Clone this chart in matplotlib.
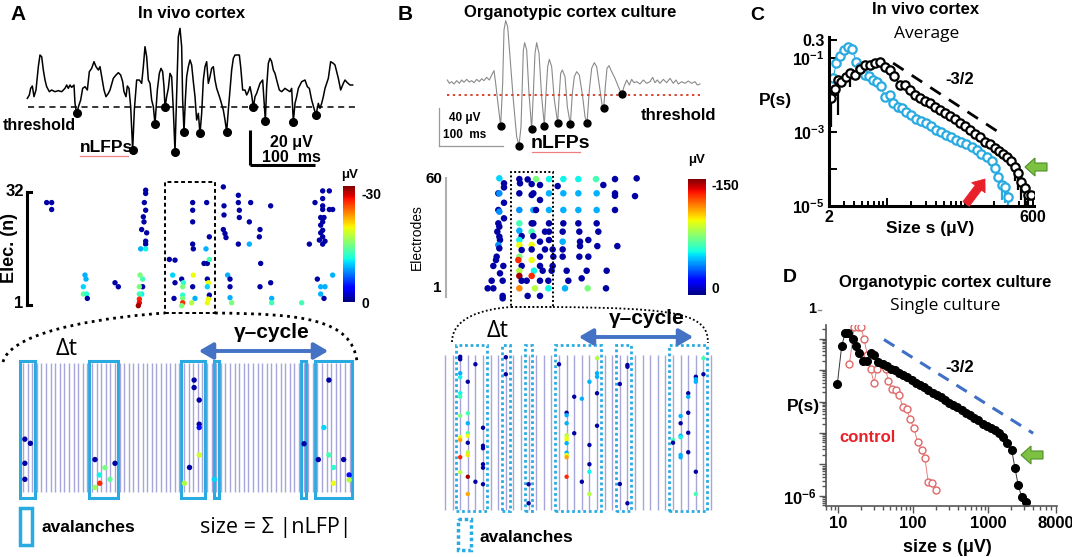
import numpy as np
import matplotlib
matplotlib.use("Agg")
import matplotlib.pyplot as plt
import matplotlib.ticker as mticker
from matplotlib.patches import Rectangle, FancyArrow, FancyArrowPatch, PathPatch
from matplotlib.path import Path
from matplotlib.colors import Normalize
from matplotlib.cm import ScalarMappable

plt.rcParams['font.family'] = ['Liberation Sans', 'DejaVu Sans']
plt.rcParams['mathtext.fontset'] = 'custom'
plt.rcParams['mathtext.rm'] = 'Liberation Sans'
plt.rcParams['mathtext.bf'] = 'Liberation Sans:bold'

# ---------------- data ----------------
# A: in vivo LFP trace, (time ms, amplitude uV), threshold at 0
a_trace = [(41, 5), (44, 7), (46, 11), (48.5, 12.4), (51, 6), (54, 10), (57.5, 24), (60, 31), (62.5, 30),
           (65, 22), (67.5, 16), (70, 12), (74, 9), (77.5, 10), (82.5, 9), (87.5, 9.6), (92.5, 9), (97.5, 11),
           (100, 13), (102.5, 11), (105, 13), (107.5, 11.6), (111, 13), (112.5, 2), (115, -4), (118, 0.4),
           (121, 4), (124, 11), (127.5, 12), (131, 10), (134, 21), (137.5, 23), (141, 27), (144, 24),
           (147.5, 22), (150, 24), (152.5, 18), (156, 10), (159, 6), (162.5, 8), (165, 10), (170, 17),
           (174, 19), (177.5, 20.4), (181, 19), (184, 15), (186, 9), (189, 6), (191, 12.4), (193.5, 11),
           (196, 0), (199, -26), (201.5, -2), (205, 16), (209, 16), (212.5, 14), (215, 24), (217.5, 36),
           (220, 30), (222.5, 16), (225, 14), (227.5, 4), (230, 0), (232.5, -10.4), (234, -2), (236, 10),
           (239, 20), (241.5, 23), (244, 21), (246, 12), (247.5, -0.4), (250, 6), (252.5, 11), (255, 20),
           (257.5, 18), (260, -2), (262.5, -27), (265, 8), (267.5, 42), (270, 47), (272.5, 36), (274, 4),
           (276, -15), (278, 4), (280, 18), (282.5, 24), (285, 28), (287.5, 25), (290, 15), (292.5, 6),
           (295, -8), (297.5, -4), (300, -16), (302.5, -4), (305, 16), (307.5, 24), (310, 27), (312.5, 14),
           (315, 18), (317.5, 23), (320, 24), (322.5, 16), (325, 11), (330, 5), (335, -2), (337.5, -8),
           (340, -15), (342.5, -2), (345, 10), (347.5, 22), (350, 29), (352.5, 31), (356, 31), (359, 31),
           (361, 24), (364, 10), (367.5, 10), (370, 7), (372.5, 9), (375, 12), (377.5, 7), (380, -0.4),
           (382.5, 6), (385, 8), (390, 14), (394, 16), (398, -8.4), (400, 12), (402.5, 26), (405, 29),
           (407.5, 27), (410, 22), (412.5, 20), (415, 16), (419, 10), (422.5, 9), (427.5, 11), (431, 10),
           (435, 9), (437.5, 11), (440, -9), (442.5, 2), (445, 6), (447.5, 11), (452.5, 15), (457.5, 16),
           (461, 12), (464, 11), (467.5, 4), (471, -1), (474, -5), (477.5, 2), (480, -1), (482.5, 2),
           (485, 6), (487.5, 11), (492.5, 17), (496, 27), (500, 26), (502.5, 25), (505, 21), (507.5, 17),
           (511, 10), (515, 14), (517.5, 16), (521, 14.4), (525, 13), (529, 13)]
a_nlfp = [(115, -4), (199, -26), (232.5, -10.4), (247.5, -0.4), (262.5, -27), (276, -15), (300, -16),
          (340, -15), (380, -0.4), (398, -8.4), (440, -9), (474, -5)]

# A raster: (time ms, electrode, nLFP uV)
a_raster = [(70, 29.1, -1), (77.5, 29.1, -1), (77.5, 27.2, -1),
            (127.5, 9.2, -9), (129, 8.1, -9), (125, 6.0, -10), (125, 4.0, -14), (130, 4.0, -12), (131, 2.8, -1),
            (172.5, 7.1, -1), (177.5, 6.0, -1),
            (218.5, 32.5, -1), (218.5, 31.6, -1), (216.5, 29.1, -1), (218.5, 27.0, -1), (215, 25.2, -1),
            (216, 23.8, -1), (212.5, 21.7, -1), (220, 20.8, -1), (218.5, 18.5, -1), (218.5, 17.7, -1),
            (211, 16.4, -9), (218.5, 16.4, -11), (210, 9.2, -15), (214, 8.1, -13), (214, 6.0, -1),
            (209, 6.0, -15), (212.5, 4.0, -11), (209, 4.0, -13), (209, 2.6, -26), (209, 1.6, -27), (207.5, 0.8, -29),
            (254, 13.5, -1), (262.5, 13.3, -1), (259, 9.2, -10), (272.5, 8.1, -1), (262.5, 7.1, -1),
            (275, 7.1, -12), (274, 6.0, -15), (261, 2.8, -1), (274, 3.7, -12), (274, 2.8, -15), (274, 1.6, -26),
            (272.5, 0.8, -15),
            (289, 29.1, -1), (289, 27.0, -1), (289, 23.8, -1), (289, 17.7, -1), (290, 16.4, -1), (290, 9.2, -19),
            (289, 6.0, -1), (292.5, 2.8, -9), (287.5, 1.6, -17),
            (310, 29.1, -1), (314, 19.7, -1), (309, 16.4, -9), (306, 12.4, -1), (311, 12.4, -1), (314, 13.5, -13),
            (311, 8.1, -1), (312.5, 7.1, -19), (311, 6.0, -10), (314, 3.7, -1), (312.5, 2.6, -19), (311, 1.6, -19),
            (335, 33.4, -1), (336, 28.2, -1), (336, 25.7, -1), (335, 21.7, -1), (337.5, 20.6, -1), (339, 19.5, -1),
            (341.5, 9.2, -9), (345, 8.1, -1), (345, 6.0, -1), (345, 3.0, -9), (347.5, 1.6, -15),
            (357.5, 31.1, -1), (357.5, 29.1, -1), (359, 27.0, -1), (359, 25.0, -1), (376, 29.1, -1), (374, 23.8, -1),
            (357.5, 17.7, -1), (374, 17.7, -9), (390, 21.7, -1), (389, 19.7, -1), (391, 12.4, -1), (390, 6.0, -1),
            (406, 28.2, -1), (406, 7.1, -1), (407.5, 2.8, -9), (407.5, 1.6, -13), (452.5, 1.6, -13), (464, 17.7, -1),
            (484, 32.3, -1), (494, 32.3, -1), (472.5, 29.1, -1), (484, 30.2, -1), (484, 28.2, -1), (484, 27.2, -1),
            (494, 27.2, -1), (499, 27.2, -1), (481, 25.0, -1), (484, 23.8, -1), (486, 25.0, -1), (481, 22.9, -1),
            (484, 21.5, -1), (481, 20.8, -1), (484, 19.7, -1), (479, 18.8, -1), (484, 17.7, -1), (487.5, 18.5, -1),
            (476, 8.1, -1), (499, 9.2, -9), (481, 6.0, -9), (487.5, 6.0, -9), (481, 4.0, -9), (486, 2.8, -1)]

# A binned raster: (bin index, electrode, nLFP uV), avalanche boxes as (first bin, last bin)
a_bins_n = 72
a_binned = [(0.4, 13.7, -1), (1.6, 12.7, -1), (0.4, 7.9, -1), (0.4, 4.05, -1),
            (15.65, 8.8, -1), (17.8, 6.85, -15), (20.0, 7.9, -1), (16.6, 5.1, -11), (18.9, 4.05, -14),
            (16.7, 3.1, -26), (15.65, 2.1, -16),
            (37.2, 27.9, -1), (37.2, 26.1, -1), (38.3, 23.1, -1), (38.3, 17.3, -1), (38.3, 16.5, -4),
            (38.3, 9.9, -18), (36.2, 6.9, -1), (35.1, 3.1, -17), (41.6, 4.05, -10), (61.1, 12.6, -1),
            (66.5, 27.9, -1), (65.4, 16.5, -10), (64.2, 8.8, -1), (66.5, 9.9, -13), (69.7, 8.8, -1),
            (67.5, 6.9, -12), (70.9, 5.1, -4), (67.5, 3.1, -19), (70.9, 3.9, -17)]
a_avalanches = [(0, 2), (15, 20), (35, 39), (42, 42), (61, 61), (64, 71)]

# B: organotypic culture LFP trace
b_trace = [(131, 16.2), (134, 12.6), (137.5, 14.4), (141, 11.9), (145, 15.5), (149, 12.6), (152.5, 16.2),
           (156, 13.7), (160, 16.9), (164, 14.0), (167.5, 15.5), (171, 13.3), (175, 16.9), (179, 14.4),
           (182.5, 17.6), (186, 15.5), (190, 19.1), (194, 16.2), (197.5, 21.6), (201, 26.3), (203.5, 12.6),
           (207.5, -12.6), (211, -33.1), (214, 12.6), (216, 70.2), (218.5, 80.3), (221.5, 73.8), (225, 41.4),
           (230, -5.4), (235, -45), (238.5, -54.7), (241.5, -34.2), (243.5, 12.6), (245, 48.6), (247, 56.5),
           (250, 48.6), (253.5, 1.8), (257.5, -36.7), (260, 1.8), (262.5, 45), (265, 56.5), (268.5, 45),
           (272.5, -1.8), (276.5, -33.1), (279, 1.8), (281.5, 30.6), (284, 38.5), (287.5, 30.6), (291.5, -5.4),
           (296.5, -29.9), (299, 1.8), (301, 23.4), (303.5, 27), (307.5, 19.8), (311, -12.6), (315.5, -31.7),
           (318.5, 1.8), (321.5, 19.8), (325, 25.2), (329, 21.6), (334, -1.8), (337.5, -23.4), (340.5, -30.6),
           (344, 5.4), (347.5, 28.8), (351.5, 34.9), (355, 30.6), (360, 5.4), (363.5, -12.6), (365.5, -14.4),
           (368, 9), (370.5, 28.8), (373.5, 31.7), (377.5, 25.2), (382.5, 18), (387.5, 9), (392.5, 0.7),
           (396, 9), (400, 16.2), (404, 10.8), (407.5, 16.9), (411, 13.3), (415, 14.4), (420, 11.9),
           (425, 16.2), (430, 12.6), (435, 14.4), (439, 19.1), (442.5, 13.3), (446, 16.2), (450, 12.6),
           (455, 16.9), (460, 13.3), (465, 18), (470, 12.6), (474, 16.2), (477.5, 11.9), (482.5, 14.4),
           (487.5, 12.6), (492.5, 15.1), (497.5, 12.6), (502.5, 14.4), (506, 10.8), (510, 11.9)]
b_nlfp = [(211, -33.1), (238.5, -54.7), (257.5, -36.7), (276.5, -33.1), (296.5, -29.9), (315.5, -31.7),
          (340.5, -30.6), (365.5, -14.4), (392.5, 0.7)]

b_raster = [(209, 60.4, -50), (216, 57.7, -5), (216, 55.5, -5), (207.5, 52.3, -5), (209, 52.3, -40),
            (216, 47.2, -5), (207.5, 43.3, -5), (209, 42.4, -40), (216, 38.8, -5), (207.5, 36.1, -5),
            (209, 34.3, -5), (206, 31.6, -5), (209, 28.9, -5), (210, 27.1, -5), (207.5, 24.4, -40),
            (209, 22.6, -5), (205, 18.1, -5), (204, 16.3, -5), (200, 13.1, -5), (215, 13.1, -5), (210, 9.1, -5),
            (197.5, 5.1, -5), (214, 5.1, -5), (191.5, 1.0, -5), (200, 1.0, -5), (214, -3.1, -5), (214, -4.4, -5),
            (239, 60.0, -5), (240, 57.7, -5), (239, 52.3, -5), (239, 43.3, -40), (239, 36.1, -65),
            (239, 32.1, -45), (242.5, 29.2, -5), (239, 27.1, -55), (239, 24.4, -95), (242.5, 21.7, -5),
            (239, 18.1, -75), (237.5, 16.3, -130), (242.5, 13.1, -5), (239, 10.5, -85), (239, 7.7, -145),
            (242.5, 5.1, -5), (239, 1.0, -115), (251.5, -3.1, -5), (250, 5.1, -5),
            (257.5, 57.3, -5), (251.5, 59.8, -5), (260, 52.3, -5), (257.5, 51.4, -5), (260, 43.3, -45),
            (257.5, 36.1, -5), (257.5, 31.6, -65), (260, 29.2, -5), (257.5, 24.4, -95), (257.5, 22.0, -5),
            (257.5, 16.3, -95), (261, 10.5, -55), (257.5, 7.7, -130), (270, 5.1, -5), (262.5, 1.0, -85),
            (270, -3.1, -5),
            (264, 60.0, -75), (270, 56.8, -5), (270, 48.7, -5), (264, 43.3, -5), (260, 36.1, -5),
            (277.5, 31.6, -5), (270, 26.2, -5), (277.5, 22.0, -5), (270, 18.1, -5), (270, 13.1, -5),
            (274, 10.5, -5),
            (283.5, 60.0, -55), (283.5, 52.3, -45), (283.5, 43.3, -45), (283.5, 36.1, -5), (283.5, 31.6, -5),
            (283.5, 27.1, -5), (289, 22.0, -5), (289, 13.1, -5), (287.5, 10.5, -5), (282.5, 5.1, -5),
            (282.5, 1.0, -55), (296.5, 56.2, -5), (290, 18.1, -5),
            (305, 60.0, -55), (305, 52.3, -45), (305, 43.3, -45), (305, 36.1, -5), (304, 31.6, -5),
            (304, 26.2, -45), (304, 22.0, -5), (304, 18.1, -5), (310, 10.5, -5), (312.5, 5.1, -5),
            (307.5, 1.0, -45),
            (327.5, 60.0, -55), (327.5, 52.3, -45), (327.5, 43.3, -45), (327.5, 36.1, -5), (329, 31.6, -5),
            (330, 26.2, -5), (330, 23.8, -5), (329, 18.1, -5), (342.5, 27.1, -5), (342.5, 18.1, -5),
            (340, 10.5, -5), (332.5, 6.4, -5), (341.5, 1.0, -75),
            (354, 60.0, -65), (355, 52.3, -45), (355, 43.3, -45), (355, 36.1, -5), (357.5, 31.6, -5),
            (356, 23.8, -5), (370, 10.5, -5), (369, 1.0, -5), (365, 56.8, -5),
            (382.5, 60.0, -5), (382.5, 52.3, -5), (382.5, 43.3, -5), (386, 23.8, -5), (382.5, 51.0, -5),
            (415, 60.4, -5), (412.5, 50.8, -5)]

b_bins_n = 36
b_binned = [(2, 59.9, -5), (2, 58.9, -5), (2, 53.3, -45), (2, 51.7, -55), (2, 45.3, -55), (2, 43.9, -65),
            (2, 36.3, -75), (2, 27.7, -95), (2, 26.6, -110), (2, 19.7, -130), (2, 13.7, -85),
            (3, 49.9, -5), (3, 37.3, -65), (3, 33.3, -45), (3, 29.3, -65), (3, 28.3, -95), (3, 25.5, -5),
            (3, 21.7, -85), (3, 20.6, -100), (3, 11.9, -145), (3, 5.0, -110),
            (4, 56.9, -5), (4, 9.9, -5),
            (5, 31.5, -5), (5, 24.3, -5), (5, 23.3, -5), (5, 16.9, -5), (5, 15.5, -5), (5, 8.9, -5),
            (8, 59.7, -5), (8, 52.9, -5), (11, 8.9, -5), (11, 1.3, -5), (15, 56.9, -5),
            (16, 37.5, -5), (16, 36.5, -45), (16, 33.3, -45), (16, 28.5, -85), (16, 27.5, -95), (16, 26.6, -95),
            (16, 25.3, -45), (16, 21.5, -45), (16, 20.6, -95), (16, 19.7, -110), (16, 11.9, -130),
            (17, 43.9, -5), (17, 29.3, -5), (18, 43.1, -45), (18, 9.9, -5),
            (19, 49.9, -45), (19, 24.6, -5), (19, 16.9, -5), (19, 13.9, -55), (19, 5.0, -85),
            (20, 59.3, -85), (20, 53.3, -45), (20, 51.9, -45), (20, 45.3, -5), (20, 32.3, -5),
            (23, 49.0, -5), (23, 9.0, -5), (24, 56.6, -5), (24, 55.9, -5), (24, 1.3, -5),
            (30, 26.6, -65), (30, 25.5, -5),
            (31, 36.2, -45), (31, 33.3, -5), (31, 28.3, -45), (31, 27.7, -55), (31, 20.6, -45), (31, 19.7, -45),
            (32, 45.3, -5), (32, 43.9, -45), (32, 37.5, -5), (32, 29.5, -5), (32, 21.7, -5),
            (33, 51.9, -5), (33, 50.9, -45), (33, 49.9, -45), (33, 13.9, -5), (33, 5.0, -65),
            (34, 59.3, -65), (34, 52.9, -5)]
b_avalanches = [(2, 5), (8, 8), (11, 11), (15, 20), (23, 24), (30, 34)]

# C: in vivo avalanche size distributions
c_black_s = [2.13, 2.34, 2.57, 2.82, 3.19, 3.63, 4.10, 4.71, 5.42, 6.24, 7.17, 8.25, 9.48, 10.9, 12.2, 14.4,
             16.6, 19.1, 21.9, 25.2, 29.0, 33.4, 38.4, 44.2, 50.7, 58.4, 67.1, 77.2, 88.8, 102, 117, 135,
             155, 179, 205, 232, 259, 290, 324, 359, 394, 433, 475, 521, 572]
c_black_p = [0.0081, 0.015, 0.025, 0.023, 0.031, 0.039, 0.035, 0.052, 0.065, 0.065, 0.072, 0.080, 0.058,
             0.046, 0.033, 0.019, 0.019, 0.0136, 0.010, 0.0085, 0.0071, 0.0060, 0.0048, 0.0039, 0.0033,
             0.0027, 0.0022, 0.0018, 0.00145, 0.00113, 0.00091, 0.00072, 0.00055, 0.00047, 0.00036,
             0.00030, 0.00025, 0.00021, 0.00016, 0.000115, 7.6e-5, 4.5e-5, 3.0e-5, 2.0e-5, 2.0e-5]
c_black_err_s = [2.13, 2.57, 3.63, 359, 394, 433, 475, 521]
c_black_err_lo = [0.0014, 0.0028, 0.0168, 4.6e-5, 2.7e-5, 1.45e-5, 1e-5, 1e-5]
c_black_err_hi = [0.0136, 0.019, 0.039, 1.4e-4, 1.04e-4, 7.6e-5, 3.3e-5, 2.7e-5]
c_blue_s = [2.24, 2.45, 2.70, 3.03, 3.40, 3.83, 4.29, 4.80, 5.42, 6.1, 6.8, 7.65, 8.6, 9.5, 10.9, 11.9,
            13.7, 15.4, 17.3, 19.9, 22.9, 26.3, 30.3, 34.9, 40.2, 46.2, 53.2, 61.2, 70.5, 81.2, 93.4,
            108, 124, 142, 164, 189, 207, 228, 250, 274, 300]
c_blue_p = [0.028, 0.072, 0.11, 0.16, 0.20, 0.17, 0.080, 0.058, 0.035, 0.032, 0.025, 0.023, 0.017, 0.0087,
            0.010, 0.006, 0.0048, 0.0044, 0.0035, 0.0029, 0.0023, 0.0020, 0.0017, 0.00145, 0.00113,
            0.00098, 0.00083, 0.00072, 0.00061, 0.00055, 0.00048, 0.00040, 0.00032, 0.00025, 0.00021,
            0.00016, 0.000105, 6.2e-5, 3.7e-5, 3.3e-5, 1.8e-5]
c_blue_err_s = [250, 274, 300]
c_blue_err_lo = [1.45e-5, 1.2e-5, 1e-5]
c_blue_err_hi = [5e-5, 4.6e-5, 2.4e-5]
c_slope_s = [12, 259]
c_slope_p = [0.073, 8.3e-4]

# D: organotypic culture, single culture
d_black_s = [9.8, 11.2, 12.4, 13.7, 15.7, 17.4, 19.2, 21.3, 24.1, 27.3, 30.2, 34.5, 39.4, 44.5, 50.3, 57.5,
             65.7, 74.3, 84.0, 96.0, 110, 124, 140, 160, 183, 207, 234, 267, 304, 344, 389, 444, 507,
             574, 649, 743, 849, 959, 1085, 1239, 1415, 1600, 1812, 2070, 2290, 2530, 2800, 3200]
d_black_p = [0.0036, 0.058, 0.146, 0.146, 0.10, 0.058, 0.034, 0.020, 0.020, 0.034, 0.030, 0.018, 0.016,
             0.0135, 0.011, 0.010, 0.0083, 0.0070, 0.0059, 0.0048, 0.0040, 0.0033, 0.0028, 0.0023, 0.0019,
             0.0016, 0.00135, 0.00112, 0.00091, 0.00078, 0.00065, 0.00054, 0.00044, 0.00037, 0.00031,
             0.00025, 0.00020, 0.000167, 0.000141, 0.000124, 9.8e-5, 7.6e-5, 4.7e-5, 2.9e-5, 7.6e-6,
             2.2e-6, 9.5e-7, 6.6e-7]
d_ctrl_s = [14.2, 16.5, 18.3, 20.2, 22.2, 24.6, 27.2, 30.2, 32.8, 38.2, 43.2, 46.9, 52.9, 59.3, 65.7,
            72.9, 82.2, 91.0, 103, 115, 130, 144, 160, 179, 203]
d_ctrl_p = [0.0155, 0.24, 0.24, 0.226, 0.10, 0.030, 0.011, 0.0038, 0.0105, 0.0155, 0.011, 0.0045, 0.0025,
            0.0023, 0.0016, 0.00065, 0.0006, 0.00028, 0.00014, 5.3e-5, 2.9e-5, 1.6e-5, 2.7e-6, 2.5e-6, 1.5e-6]
d_slope_s = [41, 4000]
d_slope_p = [0.093, 9.8e-5]

CYAN = '#29ABE2'
LINE_COL = '#A6A6DA'
ARROW_BLUE = '#4472C4'
REG = ['Open Sans', 'DejaVu Sans']

# ---------------- figure ----------------
W, H = 1072, 557
fig = plt.figure(figsize=(W / 100, H / 100), dpi=100)


def rect(x0, y0, x1, y1):
    # pixel box (top-left origin) -> figure fraction
    return [x0 / W, 1 - y1 / H, (x1 - x0) / W, (y1 - y0) / H]


def bare(ax):
    for sp in ax.spines.values():
        sp.set_visible(False)
    ax.set_xticks([])
    ax.set_yticks([])
    ax.patch.set_alpha(0)


def colorbar(box, norm):
    cax = fig.add_axes(rect(*box))
    cb = fig.colorbar(ScalarMappable(norm=norm, cmap='jet_r'), cax=cax)
    cax.invert_yaxis()
    cb.set_ticks([])
    cb.outline.set_visible(False)


# ----- A: trace -----
ax = fig.add_axes(rect(0, 20, 357, 166.7))
bare(ax)
ax.set_xlim(0, 535.5)
ax.set_ylim(-36, 52)
t, v = np.array(a_trace).T
ax.plot(t, v, color='black', lw=1.1)
ax.plot([42.5, 532.5], [0, 0], color='black', lw=1.1, dashes=(4, 3))
t, v = np.array(a_nlfp).T
ax.plot(t, v, 'o', color='black', ms=5.5)
ax.plot([375, 375], [-14, -35], color='black', lw=2.2, solid_capstyle='butt')
ax.plot([374.3, 472], [-35, -35], color='black', lw=2.2, solid_capstyle='butt')

# ----- A: raster -----
norm_a = Normalize(-30, 0)
ax = fig.add_axes(rect(27, 179.25, 340, 315.9))
bare(ax)
ax.set_xlim(40.5, 510)
ax.set_ylim(-2, 35.5)
t, e, amp = np.array(a_raster).T
ax.scatter(t, e, c=amp, cmap='jet_r', norm=norm_a, s=15, edgecolors='none')
ax.plot([40.5, 40.5], [1, 32], color='black', lw=2.2, clip_on=False)
ax.plot([40.5, 46], [32, 32], color='black', lw=2.2, clip_on=False)
ax.plot([40.5, 46], [1, 1], color='black', lw=2.2, clip_on=False)
ax.add_patch(Rectangle((247.5, -1.2), 75, 35.9, fill=False, ec='black', lw=1.4, ls=(0, (2, 1.5))))
colorbar((343, 186, 355, 302), norm_a)

# ----- A: binned raster -----
ax = fig.add_axes(rect(15, 355, 360, 505))
bare(ax)
ax.set_xlim(-1.74, 73.26)
ax.set_ylim(-2.125, 33.93)
ax.vlines(np.arange(a_bins_n), 0.9, 32, color=LINE_COL, lw=1)
for k0, k1 in a_avalanches:
    ax.add_patch(Rectangle((k0 - 0.55, -0.45), k1 - k0 + 1.1, 32.9, fill=False, ec=CYAN, lw=2.2))
k, e, amp = np.array(a_binned).T
ax.scatter(k, e, c=amp, cmap='jet_r', norm=norm_a, s=15, edgecolors='none', zorder=3)

# ----- B: trace -----
ax = fig.add_axes(rect(430, 15, 720, 150))
bare(ax)
ax.set_xlim(105, 540)
ax.set_ylim(-59.4, 86.4)
t, v = np.array(b_trace).T
ax.plot(t, v, color='#8a8a8a', lw=0.8)
ax.plot([131, 510], [0, 0], color='#D9442E', lw=1.4, ls=(0, (1.2, 1.8)))
t, v = np.array(b_nlfp).T
ax.plot(t, v, 'o', color='black', ms=5)
ax.plot([118.5, 118.5], [-14.4, -54.7], color='#999999', lw=0.9)
ax.plot([118.5, 215], [-54.7, -54.7], color='#999999', lw=0.9)

# ----- B: raster -----
norm_b = Normalize(-150, 0)
ax = fig.add_axes(rect(430, 165, 720, 310))
bare(ax)
ax.set_xlim(105, 540)
ax.set_ylim(-10.7, 67.6)
t, e, amp = np.array(b_raster).T
ax.scatter(t, e, c=amp, cmap='jet_r', norm=norm_b, s=22, edgecolors='none')
ax.plot([129, 129], [-3.5, 60.5], color='#b0b0b0', lw=1.5)
ax.add_patch(Rectangle((226.5, -9), 63, 72.8, fill=False, ec='black', lw=1.4, ls=(0, (1, 1.2))))
colorbar((688, 179, 706, 295), norm_b)

# ----- B: binned raster -----
ax = fig.add_axes(rect(435, 340, 720, 515))
bare(ax)
ax.set_xlim(-1.316, 36.18)
ax.set_ylim(-3.4, 66.6)
ax.vlines(np.arange(b_bins_n), -1.4, 60.6, color=LINE_COL, lw=1)
for k0, k1 in b_avalanches:
    ax.add_patch(Rectangle((k0 - 0.5, -1.8), k1 - k0 + 1, 66.4, fill=False, ec=CYAN, lw=2,
                           ls=(0, (1, 1))))
k, e, amp = np.array(b_binned).T
ax.scatter(k, e, c=amp, cmap='jet_r', norm=norm_b, s=10, edgecolors='none', zorder=3)

# ----- C -----
axc = fig.add_axes(rect(829, 37, 1034.2, 206))
axc.set_xscale('log')
axc.set_yscale('log')
axc.vlines(c_black_err_s, c_black_err_lo, c_black_err_hi, color='black', lw=1.6)
axc.vlines(c_blue_err_s, c_blue_err_lo, c_blue_err_hi, color=CYAN, lw=1.6)
axc.plot(c_blue_s, c_blue_p, 'o', ls='-', lw=0.8, color=CYAN, mfc='white', mec=CYAN, mew=1.6, ms=6)
axc.plot(c_black_s, c_black_p, 'o', ls='-', lw=0.8, color='black', mfc='white', mec='black', mew=1.6, ms=6)
axc.plot(c_slope_s, c_slope_p, color='black', lw=2, dashes=(4.5, 3.5))
axc.set_xlim(2, 620)
axc.set_ylim(1e-5, 0.37)
for sp in ['top', 'right']:
    axc.spines[sp].set_visible(False)
for sp in ['left', 'bottom']:
    axc.spines[sp].set_linewidth(2.2)
axc.set_yticks([0.3, 1e-1, 1e-2, 1e-3, 1e-4, 1e-5])
axc.set_yticklabels(['0.3', r'$\mathbf{10^{-1}}$', '', r'$\mathbf{10^{-3}}$', '', r'$\mathbf{10^{-5}}$'])
axc.yaxis.set_minor_locator(mticker.NullLocator())
axc.set_xticks([2, 10, 100, 600])
axc.set_xticklabels(['2', '', '', '600'])
axc.xaxis.set_minor_locator(mticker.LogLocator(base=10, subs=np.arange(2, 10), numticks=20))
axc.xaxis.set_minor_formatter(mticker.NullFormatter())
axc.tick_params(which='both', direction='in', width=1.4, labelsize=11.5, pad=3)
axc.tick_params(which='major', length=6)
axc.tick_params(which='minor', length=3.5)
for lab in axc.get_xticklabels() + axc.get_yticklabels():
    lab.set_fontweight('bold')

# ----- D -----
axd = fig.add_axes(rect(826, 325, 1057, 506))
axd.set_xscale('log')
axd.set_yscale('log')
axd.plot(d_slope_s, d_slope_p, color='#3F6FC6', lw=2.2, dashes=(4, 3))
axd.plot(d_ctrl_s, d_ctrl_p, 'o', ls='-', lw=0.7, color='#E88080', mfc='white', mec='#E06868', mew=1, ms=5)
axd.plot(d_black_s, d_black_p, 'o', ls='-', lw=0.7, color='#333333', mfc='black', mec='black', ms=5.5)
axd.set_xlim(6.92, 8318)
axd.set_ylim(4.8e-7, 0.27)
for sp in ['top', 'right']:
    axd.spines[sp].set_visible(False)
for sp in ['left', 'bottom']:
    axd.spines[sp].set_linewidth(1.2)
    axd.spines[sp].set_color('#555555')
axd.set_yticks([1e-6, 1e-5, 1e-4, 1e-3, 1e-2, 1e-1])
axd.set_yticklabels([r'$\mathbf{10^{-6}}$', '', '', '', '', ''])
axd.yaxis.set_minor_locator(mticker.LogLocator(base=10, subs=np.arange(2, 10), numticks=20))
axd.yaxis.set_minor_formatter(mticker.NullFormatter())
axd.set_xticks([10, 100, 1000, 8000])
axd.set_xticklabels(['10', '100', '1000', '8000'])
axd.xaxis.set_minor_locator(mticker.LogLocator(base=10, subs=np.arange(2, 10), numticks=20))
axd.xaxis.set_minor_formatter(mticker.NullFormatter())
axd.tick_params(which='both', direction='out', width=1, color='#555555', labelsize=12, pad=2)
axd.tick_params(which='major', length=5)
axd.tick_params(which='minor', length=3)
for lab in axd.get_xticklabels() + axd.get_yticklabels():
    lab.set_fontweight('bold')

# ---------------- annotations (pixel coordinates) ----------------
deco = fig.add_axes([0, 0, 1, 1])
deco.set_xlim(0, W)
deco.set_ylim(H, 0)
deco.axis('off')


def txt(x, y, s, size=12, weight='bold', ha='left', **kw):
    deco.text(x, y, s, fontsize=size, fontweight=weight, ha=ha, va='center', **kw)


def arc(points, lw, pattern):
    codes = [Path.MOVETO, Path.CURVE4, Path.CURVE4, Path.CURVE4]
    deco.add_patch(PathPatch(Path(points, codes), fill=False, ec='black', lw=lw, ls=pattern))


# panel A
txt(18, 15, 'A', size=15, ha='center')
txt(192, 14, 'In vivo cortex', size=12, ha='center')
txt(3, 125, 'threshold', size=11.5)
txt(80, 147, 'nLFPs', size=12.5)
deco.plot([80, 128], [156, 156], color='#F08080', lw=0.9)
txt(291, 143, '20 \u03bcV', size=11.5, ha='center')
txt(291, 158, '100  ms', size=11.5, ha='center')
txt(24, 192, '32', size=12, ha='right')
txt(23, 304, '1', size=12, ha='right')
txt(9, 248, 'Elec. (n)', size=13, ha='center', rotation=90)
txt(350, 175, '\u03bcV', size=9.5, ha='center')
txt(361, 195, '-30', size=10)
txt(362, 304, '0', size=10)
arc([(3, 362), (12, 328), (120, 316), (165, 313)], 2, (0, (1, 1.6)))
arc([(215, 313), (300, 314), (352, 318), (357, 362)], 2, (0, (1, 1.6)))
txt(67, 349, '\u0394t', size=17, weight='normal', ha='center', family=REG)
txt(272, 333, '\u03b3\u2013cycle', size=15, ha='center')
deco.add_patch(FancyArrowPatch((196, 351), (331, 351), arrowstyle='<|-|>,head_length=0.6,head_width=0.35',
                               mutation_scale=14, lw=2.8, color=ARROW_BLUE))
deco.add_patch(Rectangle((20, 508), 12, 37, fill=False, ec=CYAN, lw=2.5))
txt(42, 527, 'avalanches', size=12.5)
txt(200, 527, 'size = \u03a3 |nLFP|', size=15.5, weight='normal', family=REG)

# panel B
txt(405, 14, 'B', size=15, ha='center')
txt(570, 12, 'Organotypic cortex culture', size=12, ha='center')
txt(449, 118, '40 \u03bcV', size=8.5)
txt(443, 135, '100  ms', size=8.5)
txt(641, 115, 'threshold', size=12)
txt(531, 144, 'nLFPs', size=14)
deco.plot([532, 580], [151.5, 151.5], color='#F08080', lw=0.9)
txt(442, 179, '60', size=11, ha='right')
txt(442, 288, '1', size=11, ha='right')
txt(417, 237, 'Electrodes', size=10, weight='normal', ha='center', rotation=90)
txt(697, 160, '\u03bcV', size=9.5, ha='center')
txt(711, 186, '-150', size=10)
txt(712, 289, '0', size=10)
arc([(452, 342), (452, 318), (482, 309), (511, 307)], 1.3, (0, (1, 1.3)))
arc([(553, 307), (680, 308), (708, 314), (708, 343)], 1.3, (0, (1, 1.3)))
txt(498, 331, '\u0394t', size=17, weight='normal', ha='center', family=REG)
txt(647, 318, '\u03b3\u2013cycle', size=15, ha='center')
deco.add_patch(FancyArrowPatch((576, 337), (696, 337), arrowstyle='<|-|>,head_length=0.6,head_width=0.35',
                               mutation_scale=14, lw=2.8, color=ARROW_BLUE))
deco.add_patch(Rectangle((458, 519), 13, 31, fill=False, ec=CYAN, lw=2.5, ls=(0, (1, 0.8))))
txt(480, 537, 'avalanches', size=12.5)

# panel C
txt(757, 15, 'C', size=14, ha='center')
txt(926, 10, 'In vivo cortex', size=12, ha='center')
txt(927, 34, 'Average', size=12.5, weight='normal', ha='center', family=REG)
txt(775, 100, 'P(s)', size=12.5, ha='center')
txt(930, 228, 'Size s (\u03bcV)', size=12.5, ha='center')
txt(960, 80, '-3/2', size=12, ha='center')
deco.add_patch(FancyArrow(1047, 167, -22, 0, width=8, head_width=18, head_length=10,
                          length_includes_head=True, fc='#7CC142', ec='#4F8F2A', lw=0.8))
deco.add_patch(FancyArrow(966, 204, 19, -25, width=8, head_width=17, head_length=11,
                          length_includes_head=True, fc='#E8202A', ec='#E8202A', lw=0.5))

# panel D
txt(790, 278, 'D', size=14, ha='center')
txt(945, 283, 'Organotypic cortex culture', size=12, ha='center')
txt(945, 306, 'Single culture', size=12.5, weight='normal', ha='center', family=REG)
txt(812, 309, '1', size=10.5, ha='center')
deco.plot([818, 821], [310, 310], color='#888888', lw=1)
txt(803, 407, 'P(s)', size=12.5, ha='center')
txt(868, 438, 'control', size=12, ha='center', color='#E8202A')
txt(960, 367, '-3/2', size=12, ha='center')
txt(947, 547, 'size s (\u03bcV)', size=13, ha='center')
deco.add_patch(FancyArrow(1043, 455, -22, 0, width=8, head_width=18, head_length=10,
                          length_includes_head=True, fc='#7CC142', ec='#4F8F2A', lw=0.8))

fig.savefig('out.png', dpi=100)
